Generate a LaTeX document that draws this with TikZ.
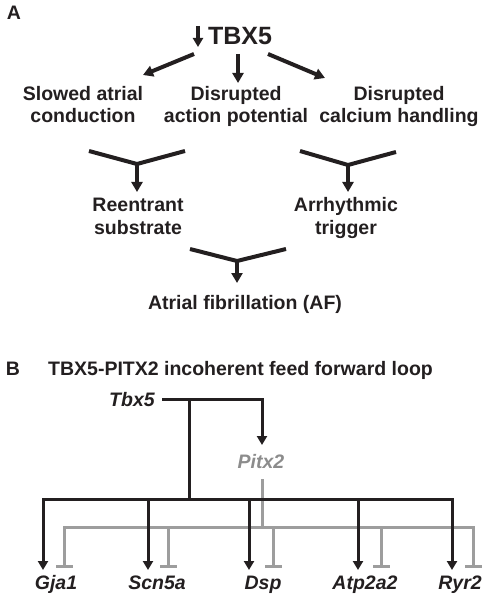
\documentclass[tikz,border=0pt]{standalone}
\usepackage{fontspec}
\setmainfont{Liberation Sans}
\usetikzlibrary{arrows.meta}

\definecolor{inkblack}{HTML}{231F20}
\definecolor{inkgray}{HTML}{9D9D9D}
\definecolor{txtgray}{HTML}{8C8C8C}

\tikzset{
    lbl/.style={font=\bfseries\fontsize{19.5}{22.5}\selectfont, text=inkblack, inner sep=0pt, align=center, anchor=base},
    gene/.style={lbl, font=\bfseries\itshape\fontsize{19.5}{22.5}\selectfont},
    aline/.style={draw=inkblack, line width=4pt},
    aarr/.style={aline, -{Triangle[width=11pt,length=10pt]}},
    bline/.style={draw=inkblack, line width=3pt},
    barr/.style={bline, -{Triangle[width=10pt,length=9pt]}},
    gline/.style={draw=inkgray, line width=3pt},
    gtee/.style={gline, -{Bar[width=17pt]}}
}

\begin{document}
\begin{tikzpicture}[x=1pt, y=-1pt]
        \useasboundingbox (0,0) rectangle (488,601);

        % panel A
        \node[lbl] (pA) at (14,20) {A};
        \node[lbl, font=\bfseries\fontsize{25}{28}\selectfont] (tbx) at (240,45) {TBX5};
        \draw[aline, line width=3.5pt, -{Triangle[width=10pt,length=9pt]}] (198,26) -- (198,47);

        \node[lbl] (slow) at (83,123) {Slowed atrial\\conduction};
        \node[lbl] (ap) at (236,123) {Disrupted\\action potential};
        \node[lbl] (calc) at (399,123) {Disrupted\\calcium handling};

        \coordinate (T1) at (194,54);
        \coordinate (T2) at (238,54);
        \coordinate (T3) at (268,54);
        \coordinate (S1) at (143,75);
        \coordinate (S2) at (238,83);
        \coordinate (S3) at (325,78);
        \draw[aarr] (T1) -- (S1);
        \draw[aarr] (T2) -- (S2);
        \draw[aarr] (T3) -- (S3);

        \node[lbl] (re) at (138,234) {Reentrant\\substrate};
        \node[lbl] (ar) at (346,234) {Arrhythmic\\trigger};
        \node[lbl] (af) at (245,309) {Atrial fibrillation (AF)};

        % Y junctions
        \coordinate (Y1) at (137,164);
        \coordinate (Y2) at (348,165);
        \coordinate (Y3) at (237,261);
        \draw[aline] (89,151) -- (Y1) -- (185,151);
        \draw[aline] (300,151) -- (Y2) -- (396,152);
        \draw[aline] (190,249) -- (Y3) -- (286,249);
        \draw[aarr] (Y1) -- (137,192);
        \draw[aarr] (Y2) -- (348,192);
        \draw[aarr] (Y3) -- (237,283);

        % panel B
        \node[lbl] (pB) at (13,375) {B};
        \node[lbl, anchor=base west] (title) at (48,375) {TBX5-PITX2 incoherent feed forward loop};
        \node[gene] (tbxg) at (132,406) {Tbx5};
        \node[gene, text=txtgray] (pitx) at (261,468) {Pitx2};

        \node[gene] (gja) at (56,589) {Gja1};
        \node[gene] (scn) at (157,589) {Scn5a};
        \node[gene] (dsp) at (263,589) {Dsp};
        \node[gene] (atp) at (365,589) {Atp2a2};
        \node[gene] (ryr) at (460,589) {Ryr2};

        % PITX2 repression
        \draw[gline] (262,479) -- (262,527);
        \draw[gtee] (262,527) -| (64,568);
        \draw[gtee] (262,527) -| (473,568);
        \foreach \x in {168,273,381}
            \draw[gtee] (\x,527) -- (\x,568);

        % TBX5 activation
        \draw[barr] (162,399) -| (262,445);
        \draw[bline] (189,399) -- (189,499);
        \draw[barr] (189,499) -| (43,570);
        \draw[barr] (189,499) -| (452,570);
        \foreach \x in {148,249,358}
            \draw[barr] (\x,499) -- (\x,570);
    \end{tikzpicture}
\end{document}
